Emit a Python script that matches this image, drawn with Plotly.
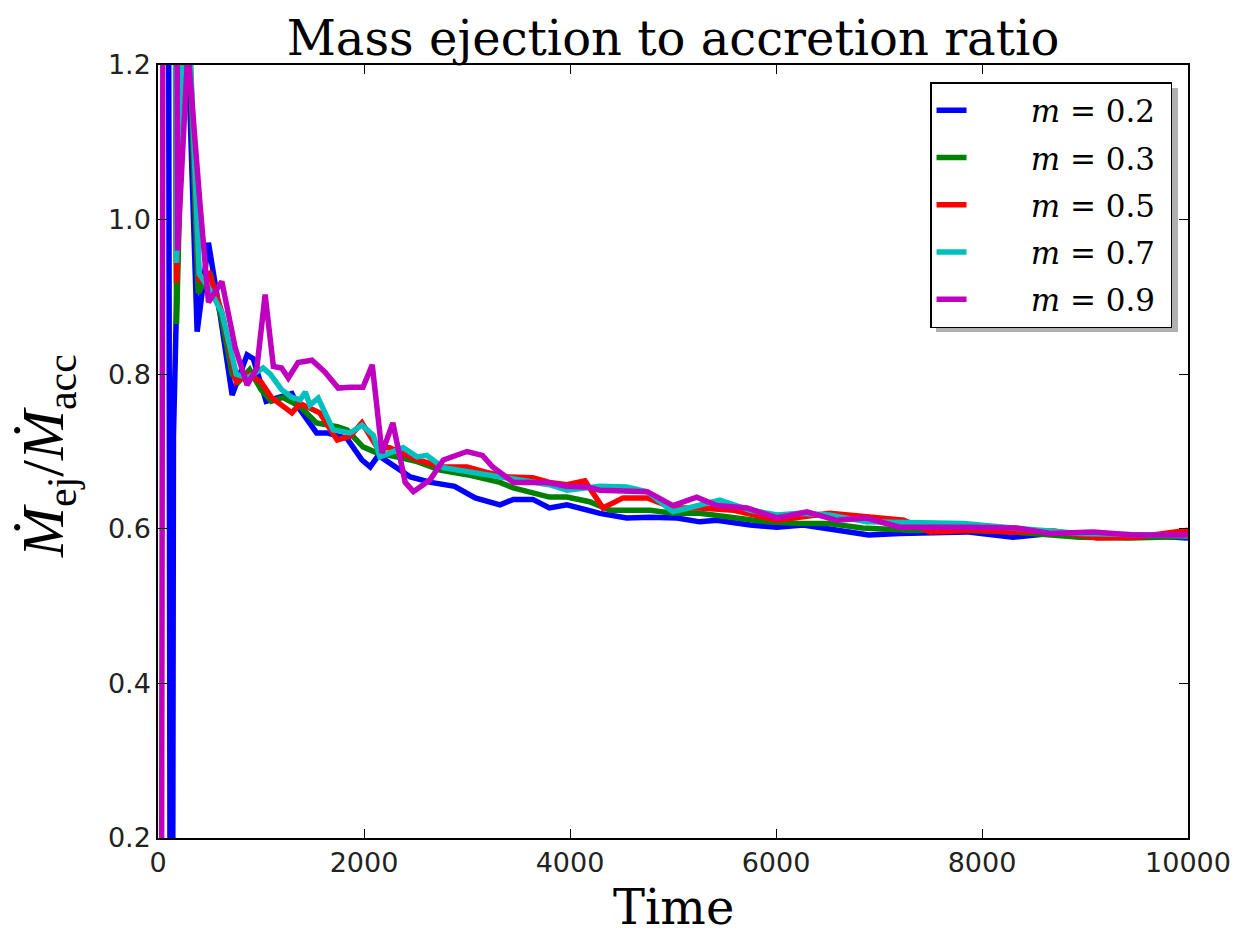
import plotly.graph_objects as go

# ---- data (Time, Mdot_ej / Mdot_acc) ----
labels = ["0.2", "0.3", "0.5", "0.7", "0.9"]
colors = ["#0000ff", "#008000", "#ff0000", "#00bfbf", "#bf00bf"]

t_m02 = [60, 130, 150, 260, 380, 490, 600, 720, 865, 925, 1050, 1200, 1300, 1380, 1540, 1640, 1835, 1980,
         2060, 2140, 2450, 2650, 2880, 3080, 3320, 3450, 3640, 3800, 3970, 4290, 4550, 4780, 5040, 5260,
         5425, 5750, 6010, 6265, 6600, 6900, 7200, 7850, 8300, 8660, 9100, 9500, 10000]
v_m02 = [5.0, -1.0, 0.72, 1.35, 0.855, 0.97, 0.88, 0.773, 0.825, 0.82, 0.765, 0.77, 0.775, 0.754, 0.724,
         0.724, 0.717, 0.689, 0.68, 0.695, 0.667, 0.66, 0.655, 0.64, 0.631, 0.638, 0.638, 0.627, 0.631, 0.62,
         0.614, 0.615, 0.614, 0.609, 0.611, 0.605, 0.602, 0.605, 0.598, 0.592, 0.594, 0.596, 0.589, 0.594,
         0.592, 0.592, 0.588]

t_m03 = [60, 180, 270, 390, 505, 620, 720, 780, 890, 1000, 1100, 1210, 1380, 1540, 1740, 1835, 1990,
         2130, 2350, 2515, 2740, 3000, 3320, 3450, 3800, 3970, 4190, 4390, 4780, 5000, 5260, 5590, 5910,
         6230, 6500, 6840, 7300, 7800, 8300, 8950, 9440, 10000]
v_m03 = [5.0, 0.865, 1.35, 0.905, 0.932, 0.87, 0.8, 0.79, 0.806, 0.78, 0.765, 0.77, 0.758, 0.737,
         0.732, 0.728, 0.706, 0.698, 0.692, 0.687, 0.676, 0.67, 0.66, 0.653, 0.641, 0.641, 0.635, 0.624,
         0.624, 0.62, 0.62, 0.615, 0.609, 0.607, 0.607, 0.601, 0.598, 0.598, 0.596, 0.589, 0.588, 0.59]

t_m05 = [70, 180, 270, 400, 500, 620, 760, 880, 1000, 1100, 1200, 1300, 1380, 1570, 1740, 1865, 1980,
         2130, 2250, 2380, 2515, 2770, 3000, 3190, 3390, 3640, 3800, 3970, 4145, 4320, 4515, 4750, 5000,
         5260, 5590, 6010, 6230, 6520, 7240, 7500, 7915, 8300, 8700, 9120, 9500, 10000]
v_m05 = [5.0, 0.918, 1.35, 0.92, 0.93, 0.88, 0.79, 0.8, 0.79, 0.77, 0.76, 0.75, 0.762, 0.75, 0.715,
         0.72, 0.737, 0.705, 0.705, 0.698, 0.689, 0.68, 0.68, 0.673, 0.667, 0.666, 0.66, 0.657, 0.662, 0.627,
         0.64, 0.64, 0.627, 0.627, 0.624, 0.611, 0.615, 0.62, 0.611, 0.596, 0.598, 0.596, 0.597, 0.588,
         0.589, 0.598]

t_m07 = [80, 180, 270, 400, 500, 620, 760, 865, 1020, 1090, 1200, 1300, 1380, 1430, 1475, 1555, 1700,
         1865, 1980, 2090, 2155, 2250, 2380, 2515, 2610, 2770, 3060, 3320, 3800, 3970, 4290, 4550, 4750,
         5000, 5260, 5455, 5750, 6010, 6230, 6520, 6880, 7820, 8300, 8950, 10000]
v_m07 = [5.0, 0.944, 1.35, 0.93, 0.91, 0.88, 0.8, 0.795, 0.808, 0.8, 0.78, 0.77, 0.767, 0.777, 0.76,
         0.769, 0.728, 0.724, 0.734, 0.721, 0.693, 0.698, 0.705, 0.693, 0.695, 0.679, 0.673, 0.666, 0.657,
         0.65, 0.655, 0.654, 0.648, 0.622, 0.631, 0.637, 0.624, 0.618, 0.62, 0.618, 0.609, 0.607, 0.601,
         0.594, 0.591]

t_m09 = [0, 100, 190, 290, 408, 490, 620, 750, 865, 960, 1040, 1120, 1200, 1265, 1360, 1495, 1620, 1750,
         1865, 1990, 2080, 2175, 2280, 2400, 2480, 2640, 2770, 3000, 3150, 3250, 3390, 3450, 3775, 3970,
         4165, 4290, 4750, 5000, 5230, 5425, 5720, 6010, 6300, 6590, 6880, 7200, 7850, 8340, 8660, 9080,
         9470, 10000]
v_m09 = [-3.0, 6.0, 0.96, 1.22, 1.02, 0.893, 0.92, 0.834, 0.786, 0.808, 0.903, 0.81, 0.808, 0.795, 0.815,
         0.818, 0.803, 0.782, 0.783, 0.783, 0.812, 0.698, 0.737, 0.66, 0.648, 0.663, 0.689, 0.70, 0.695,
         0.68, 0.666, 0.66, 0.66, 0.655, 0.654, 0.65, 0.648, 0.63, 0.641, 0.63, 0.627, 0.614, 0.622, 0.611,
         0.614, 0.602, 0.602, 0.601, 0.594, 0.596, 0.592, 0.592]

x_ticks = [0, 2000, 4000, 6000, 8000, 10000]
y_ticks = [0.2, 0.4, 0.6, 0.8, 1.0, 1.2]

series_t = [t_m02, t_m03, t_m05, t_m07, t_m09]
series_v = [v_m02, v_m03, v_m05, v_m07, v_m09]

SERIF = "DejaVu Serif, serif"
SERIF2 = "Liberation Serif, DejaVu Serif, serif"
SANS = "DejaVu Sans, sans-serif"
NB = "\u00a0"

fig = go.Figure()
for lab, col, tt, vv in zip(labels, colors, series_t, series_v):
    fig.add_trace(go.Scatter(
        x=tt, y=vv, mode="lines", name=NB * 6 + "<i>m</i>" + NB + "=" + NB + lab + NB,
        legendgroup=lab,
        line=dict(color=col, width=5.5, shape="linear"),
    ))

axis_common = dict(
    showline=True, linecolor="black", linewidth=1.5, mirror="ticks",
    ticks="inside", ticklen=9, tickwidth=1.2, tickcolor="black",
    showgrid=False, zeroline=False,
    tickfont=dict(family=SANS, size=27, color="#222222"),
)

fig.update_layout(
    width=1250, height=938,
    margin=dict(l=158, r=62, t=65, b=100),
    plot_bgcolor="white", paper_bgcolor="white",
    title=dict(text="Mass ejection to accretion ratio", x=0.5, xref="paper",
               y=1 - 38 / 938, yref="container", yanchor="middle", xanchor="center",
               font=dict(family=SERIF, size=48, color="black")),
    xaxis=dict(range=[0, 10000], tickvals=x_ticks, ticktext=[str(v) for v in x_ticks], **axis_common),
    yaxis=dict(range=[0.2, 1.2], tickvals=y_ticks, ticktext=["%.1f" % v for v in y_ticks], **axis_common),
    legend=dict(x=0.9845, y=0.978, xanchor="right", yanchor="top",
                bgcolor="white", bordercolor="black", borderwidth=1.5,
                font=dict(family=SERIF, size=31, color="black"),
                tracegroupgap=4, itemwidth=30),
    showlegend=True,
)

# axis titles as annotations
fig.add_annotation(text="Time", xref="paper", yref="paper", x=0.5, y=-(907 - 838) / 773,
                   xanchor="center", yanchor="middle", showarrow=False,
                   font=dict(family=SERIF, size=48, color="black"))
fig.add_annotation(text="<i>Ṁ</i><sub>ej</sub>/<i>Ṁ</i><sub>acc</sub>", xref="paper", yref="paper",
                   x=-(158 - 47) / 1030, y=1 - (456 - 65) / 773, textangle=-90,
                   xanchor="center", yanchor="middle", showarrow=False,
                   font=dict(family=SERIF2, size=60, color="black"))

# legend shadow
fig.add_shape(type="rect", xref="paper", yref="paper", layer="above",
              x0=(936 - 158) / 1030, x1=(1178 - 158) / 1030,
              y0=1 - (332 - 65) / 773, y1=1 - (88 - 65) / 773,
              fillcolor="#b0b0b0", line=dict(width=0))

fig.write_html("out.html")
